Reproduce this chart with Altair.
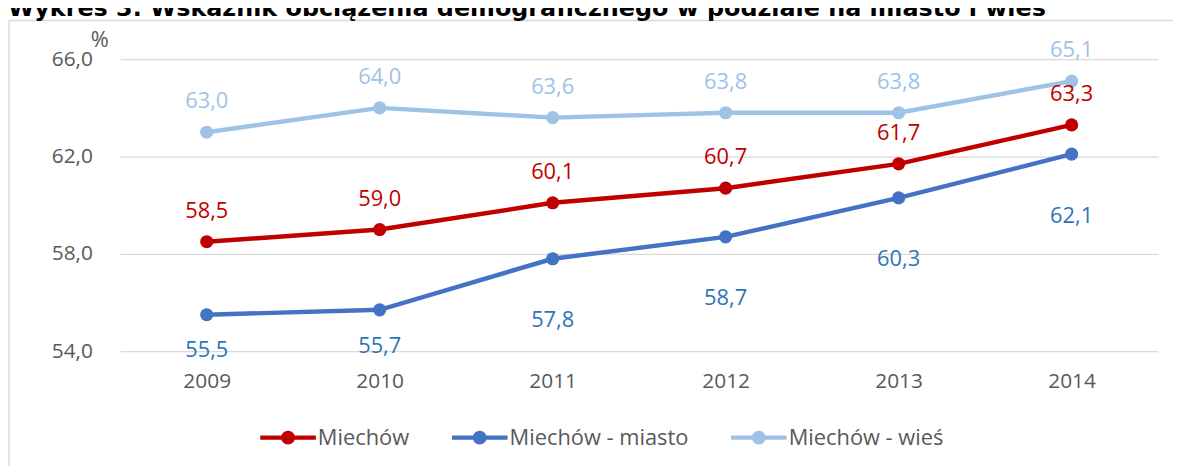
import altair as alt
import pandas as pd

years = ["2009", "2010", "2011", "2012", "2013", "2014"]
series_names = ["Miechów", "Miechów - miasto", "Miechów - wieś"]
miechow = [58.5, 59.0, 60.1, 60.7, 61.7, 63.3]
miasto = [55.5, 55.7, 57.8, 58.7, 60.3, 62.1]
wies = [63.0, 64.0, 63.6, 63.8, 63.8, 65.1]
y_ticks = [54, 58, 62, 66]
title_text = "Wykres 3. Wskaźnik obciążenia demograficznego w podziale na miasto i wieś"

line_colors = ["#C00000", "#4472C4", "#9DC3E6"]
label_colors = ["#C00000", "#2E75B6", "#9DC3E6"]

rows = []
for name, vals in zip(series_names, [miechow, miasto, wies]):
    for yr, v in zip(years, vals):
        rows.append({"year": yr, "series": name, "value": v,
                     "label": f"{v:.1f}".replace(".", ",")})
df = pd.DataFrame(rows)

W, H = 1045, 294
FONT = "Open Sans"
GREY = "#595959"

x_enc = alt.X("year:O", scale=alt.Scale(type="point", padding=0.5),
              axis=alt.Axis(title=None, labelAngle=0, ticks=False, domain=False,
                            labelPadding=20, labelFontSize=21, labelFont=FONT,
                            labelColor=GREY, grid=False))
y_enc = alt.Y("value:Q", scale=alt.Scale(domain=[54, 66], nice=False, zero=False),
              axis=alt.Axis(values=y_ticks, ticks=False, domain=False,
                            labelExpr="replace(format(datum.value, '.1f'), '.', ',')",
                            labelPadding=28, labelFontSize=21, labelFont=FONT,
                            labelColor=GREY, gridColor="#D9D9D9", gridWidth=1.2,
                            title="%", titleAngle=0, titleX=-21, titleY=-20,
                            titleAlign="center", titleBaseline="middle",
                            titleFontWeight="normal", titleFontSize=22,
                            titleFont=FONT, titleColor=GREY))

legend_path = ("M-1,-0.075L1,-0.075L1,0.075L-1,0.075Z "
               "M-0.25,0A0.25,0.25 0 1,1 0.25,0A0.25,0.25 0 1,1 -0.25,0Z")
legend = alt.Legend(title=None, orient="none", direction="horizontal",
                    legendX=141, legendY=353,
                    symbolType=legend_path, symbolSize=3136,
                    symbolStrokeWidth=0, symbolOpacity=1,
                    labelFont=FONT, labelFontSize=22, labelLimit=0,
                    labelColor=GREY, labelOffset=2,
                    columnPadding=42, padding=0)
color_enc = alt.Color("series:N",
                      scale=alt.Scale(domain=series_names, range=line_colors),
                      legend=legend)

base = alt.Chart(df)

lines = base.mark_line(strokeWidth=4.5).encode(
    x=x_enc, y=y_enc, color=color_enc, order=alt.Order("year:O"),
)

points = base.mark_point(filled=True, size=175, opacity=1).encode(
    x=x_enc, y=y_enc, color=color_enc,
)

def labels(flt, col, dy):
    return base.transform_filter(flt).mark_text(
        font=FONT, fontSize=22, color=col, dy=dy, baseline="middle"
    ).encode(x=x_enc, y=y_enc, text="label:N")

lab_red = labels(alt.datum.series == series_names[0], label_colors[0], -31)
lab_light = labels(alt.datum.series == series_names[2], label_colors[2], -31)
lab_blue_a = labels((alt.datum.series == series_names[1]) & (alt.datum.year < "2011"),
                    label_colors[1], 36)
lab_blue_b = labels((alt.datum.series == series_names[1]) & (alt.datum.year >= "2011"),
                    label_colors[1], 62)

frame_df = pd.DataFrame({"t": [title_text]})
frame_left = alt.Chart(frame_df).mark_rule(color="#D9D9D9", strokeWidth=1.5).encode(
    x=alt.value(-112), y=alt.value(-39), y2=alt.value(420))
frame_top = alt.Chart(frame_df).mark_rule(color="#D9D9D9", strokeWidth=1.5).encode(
    x=alt.value(-112), x2=alt.value(1070), y=alt.value(-39))
title = alt.Chart(frame_df).mark_text(
    font="DejaVu Sans", fontWeight="bold", fontSize=24, color="#000000",
    align="left", baseline="alphabetic").encode(
    x=alt.value(-113), y=alt.value(-44), text="t:N")

chart = alt.layer(frame_left, frame_top, title, lines, points,
                  lab_red, lab_light, lab_blue_a, lab_blue_b).properties(
    width=W, height=H,
    autosize=alt.AutoSizeParams(type="none"),
    padding={"left": 113, "top": 50, "right": 15, "bottom": 114},
).configure_view(stroke=None)

chart.save("out.html", embed_options={"renderer": "svg", "actions": False})
